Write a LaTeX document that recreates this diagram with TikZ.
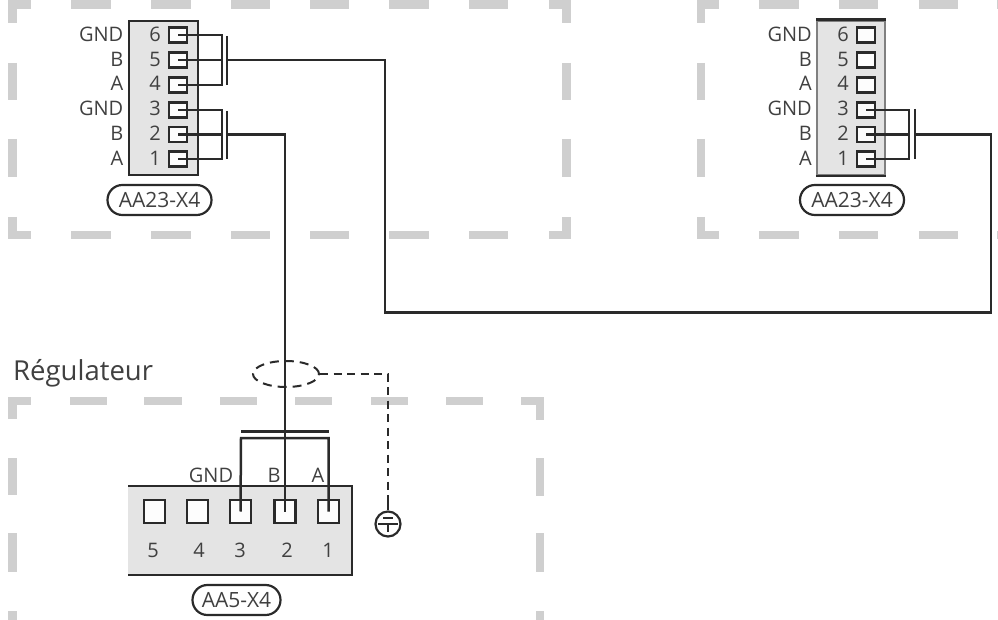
\documentclass[tikz,border=0pt]{standalone}
\usepackage{fontspec}
\setmainfont{Open Sans}
\usetikzlibrary{shapes.geometric}
\definecolor{zonegray}{HTML}{CFCFCF}
\definecolor{stripgray}{HTML}{E4E4E4}
\definecolor{wirecol}{HTML}{2A2A2A}
\definecolor{textcol}{HTML}{404040}
\tikzset{zone/.style={draw=zonegray, line width=8.5pt}}
\tikzset{wire/.style={draw=wirecol, line width=2.5pt}}
\tikzset{strip/.style={draw=wirecol, fill=stripgray, line width=2.5pt, inner sep=0pt}}
\tikzset{pinbox/.style={draw=wirecol, fill=white!92!stripgray, line width=2.5pt, inner sep=0pt, minimum width=18pt, minimum height=15pt}}
\tikzset{pinboxwide/.style={pinbox, minimum width=21pt, minimum height=23pt}}
\tikzset{lab/.style={text=textcol, inner sep=0pt, font=\fontsize{20}{20}\selectfont}}
\tikzset{tag/.style={draw=wirecol, line width=2.2pt, rounded corners=14.9pt, minimum height=30pt, inner sep=0pt, text=textcol, font=\fontsize{21}{21}\selectfont}}

\begin{document}
\begin{tikzpicture}[x=1pt, y=-1pt]
\useasboundingbox (0,0) rectangle (998,620);

% zone top left
\draw[zone] (12.5,23) -- (12.5,4.5) -- (31,4.5);
\draw[zone] (71,4.5) -- (111,4.5);
\draw[zone] (151,4.5) -- (191,4.5);
\draw[zone] (231,4.5) -- (270,4.5);
\draw[zone] (310,4.5) -- (349,4.5);
\draw[zone] (389,4.5) -- (429,4.5);
\draw[zone] (469,4.5) -- (508,4.5);
\draw[zone] (549,4.5) -- (566.5,4.5) -- (566.5,23);
\draw[zone] (12.5,63) -- (12.5,100);
\draw[zone] (12.5,139) -- (12.5,177);
\draw[zone] (566.5,63) -- (566.5,100);
\draw[zone] (566.5,139) -- (566.5,177);
\draw[zone] (12.5,217) -- (12.5,235) -- (31,235);
\draw[zone] (71,235) -- (111,235);
\draw[zone] (151,235) -- (191,235);
\draw[zone] (231,235) -- (270,235);
\draw[zone] (310,235) -- (349,235);
\draw[zone] (389,235) -- (429,235);
\draw[zone] (469,235) -- (508,235);
\draw[zone] (549,235) -- (566.5,235) -- (566.5,217);

% zone top right
\draw[zone] (701,23) -- (701,4.5) -- (719,4.5);
\draw[zone] (759,4.5) -- (799,4.5);
\draw[zone] (839,4.5) -- (878,4.5);
\draw[zone] (919,4.5) -- (958,4.5);
\draw[zone] (997,4.5) -- (998,4.5);
\draw[zone] (701,63) -- (701,100);
\draw[zone] (701,139) -- (701,177);
\draw[zone] (701,217) -- (701,235) -- (719,235);
\draw[zone] (759,235) -- (799,235);
\draw[zone] (839,235) -- (878,235);
\draw[zone] (919,235) -- (958,235);
\draw[zone] (997,235) -- (998,235);

% zone bottom
\draw[zone] (12.5,419) -- (12.5,401) -- (31,401);
\draw[zone] (70,401) -- (107,401);
\draw[zone] (144,401) -- (182,401);
\draw[zone] (220,401) -- (257,401);
\draw[zone] (295,401) -- (332,401);
\draw[zone] (371,401) -- (408,401);
\draw[zone] (446,401) -- (483,401);
\draw[zone] (521,401) -- (540,401) -- (540,420);
\draw[zone] (12.5,458) -- (12.5,495);
\draw[zone] (12.5,533) -- (12.5,572);
\draw[zone] (12.5,611) -- (12.5,620);
\draw[zone] (540,458) -- (540,496);
\draw[zone] (540,533) -- (540,572);
\draw[zone] (540,611) -- (540,620);

\node [lab, anchor=base west, font=\fontsize{27.5}{27.5}\selectfont] (regul) at (13,380) {Régulateur};

% left connector
\node [strip, minimum width=69pt, minimum height=154pt] (stripa) at (163.5,98) {};
\node [pinbox] (a6) at (178,35) {};
\node [pinbox] (a5) at (178,60) {};
\node [pinbox] (a4) at (178,85) {};
\node [pinbox] (a3) at (178,110) {};
\node [pinbox] (a2) at (178,134.5) {};
\node [pinbox] (a1) at (178,159) {};
\node [lab, anchor=base] (na6) at (155,41.5) {6};
\node [lab, anchor=base] (na5) at (155,66.5) {5};
\node [lab, anchor=base] (na4) at (155,91) {4};
\node [lab, anchor=base] (na3) at (155,116) {3};
\node [lab, anchor=base] (na2) at (155,140.5) {2};
\node [lab, anchor=base] (na1) at (155,165.5) {1};
\node [lab, anchor=base east] (la6) at (123.5,41.5) {GND};
\node [lab, anchor=base east] (la5) at (123.5,66.5) {B};
\node [lab, anchor=base east] (la4) at (123.5,91) {A};
\node [lab, anchor=base east] (la3) at (123.5,116) {GND};
\node [lab, anchor=base east] (la2) at (123.5,140.5) {B};
\node [lab, anchor=base east] (la1) at (123.5,165.5) {A};
\node [tag, minimum width=104pt] (taga) at (159.5,200) {AA23-X4};

% right connector
\node [strip, draw=gray, minimum width=68pt, minimum height=154pt] (stripb) at (851,98) {};
\draw[wire] (stripb.north west) -- (stripb.north east);
\draw[wire] (stripb.south west) -- (stripb.south east);
\node [pinbox] (b6) at (866,35) {};
\node [pinbox] (b5) at (866,60) {};
\node [pinbox] (b4) at (866,85) {};
\node [pinbox] (b3) at (866,110) {};
\node [pinbox] (b2) at (866,134.5) {};
\node [pinbox] (b1) at (866,159) {};
\node [lab, anchor=base] (nb6) at (843,41.5) {6};
\node [lab, anchor=base] (nb5) at (843,66.5) {5};
\node [lab, anchor=base] (nb4) at (843,91) {4};
\node [lab, anchor=base] (nb3) at (843,116) {3};
\node [lab, anchor=base] (nb2) at (843,140.5) {2};
\node [lab, anchor=base] (nb1) at (843,165.5) {1};
\node [lab, anchor=base east] (lb6) at (812,41.5) {GND};
\node [lab, anchor=base east] (lb5) at (812,66.5) {B};
\node [lab, anchor=base east] (lb4) at (812,91) {A};
\node [lab, anchor=base east] (lb3) at (812,116) {GND};
\node [lab, anchor=base east] (lb2) at (812,140.5) {B};
\node [lab, anchor=base east] (lb1) at (812,165.5) {A};
\node [tag, minimum width=104pt] (tagb) at (852,200) {AA23-X4};

% controller connector
\fill[stripgray] (128,486) rectangle (352,575);
\draw[wire] (128,486) -- (352,486) -- (352,575) -- (128,575);
\node [pinboxwide] (c5) at (154.5,511.5) {};
\node [pinboxwide] (c4) at (197.5,511.5) {};
\node [pinboxwide] (c3) at (240.5,511.5) {};
\node [pinboxwide] (c2) at (285,511.5) {};
\node [pinboxwide] (c1) at (328.5,511.5) {};
\node [lab, anchor=base] (nc5) at (153,557) {5};
\node [lab, anchor=base] (nc4) at (199,557) {4};
\node [lab, anchor=base] (nc3) at (240,557) {3};
\node [lab, anchor=base] (nc2) at (287,557) {2};
\node [lab, anchor=base] (nc1) at (328,557) {1};
\node [lab, anchor=base] (lc3) at (211,482) {GND};
\node [lab, anchor=base] (lc2) at (274,482) {B};
\node [lab, anchor=base] (lc1) at (318,482) {A};
\node [tag, minimum width=88pt] (tagc) at (236.5,600) {AA5-X4};

% wires top left
\coordinate (ja) at (222,60);
\coordinate (jb) at (222,134.5);
\draw[wire] (a6.center) -| (ja) |- (a4.center);
\draw[wire] (a5.center) -- (ja);
\draw[wire] (a3.center) -| (jb) |- (a1.center);
\draw[wire] (a2.center) -- (jb);
\coordinate (bara1) at (227,36);
\coordinate (bara2) at (227,85);
\coordinate (barb1) at (227,111);
\coordinate (barb2) at (227,159);
\draw[wire] (bara1) -- (bara2);
\draw[wire] (barb1) -- (barb2);

% wires top right
\coordinate (jc) at (909,134.5);
\draw[wire] (b3.center) -| (jc) |- (b1.center);
\draw[wire] (b2.center) -- (jc);
\coordinate (barc1) at (915,109);
\coordinate (barc2) at (915,159);
\draw[wire, line width=1.2pt] (barc1) -- (barc2);

% long wire between the two
\coordinate (w1) at (227,60);
\coordinate (w2) at (385,312.5);
\coordinate (w3) at (991,134.5);
\coordinate (w4) at (915,134.5);
\draw[wire] (w1) -| (w2) -| (w3) -- (w4);

% wire down to controller
\coordinate (w5) at (227,134.5);
\coordinate (w6) at (285,431.5);
\draw[wire] (w5) -| (w6);
\coordinate (barl) at (241,431.5);
\coordinate (barr) at (328.5,431.5);
\coordinate (busl) at (241,438);
\coordinate (busr) at (328.5,438);
\draw[wire] (barl) -- (barr);
\draw[wire] (c3.center) -- (busl) -- (busr) -- (c1.center);
\draw[wire] (w6) -- (c2.center);

% shield and earth
\node [circle, draw=wirecol, line width=2.2pt, minimum size=25pt, inner sep=0pt] (earth) at (388,524) {};
\draw[wirecol, line width=2pt] (383,518) -- (393,518);
\draw[wirecol, line width=2pt] (378,524) -- (398,524);
\draw[wirecol, line width=2pt] (388,524) -- (388,532);
\node [ellipse, draw=wirecol, line width=2pt, minimum width=66pt, minimum height=26pt, inner sep=0pt, dash pattern=on 9pt off 6pt] (shield) at (286,374) {};
\coordinate (sh1) at (388,374);
\coordinate (sh2) at (388,503);
\draw[wire, dash pattern=on 8pt off 5.5pt] (shield.east) -- (sh1) -- (sh2);
\draw[wire] (sh2) -- (earth.north);

\end{tikzpicture}
\end{document}
